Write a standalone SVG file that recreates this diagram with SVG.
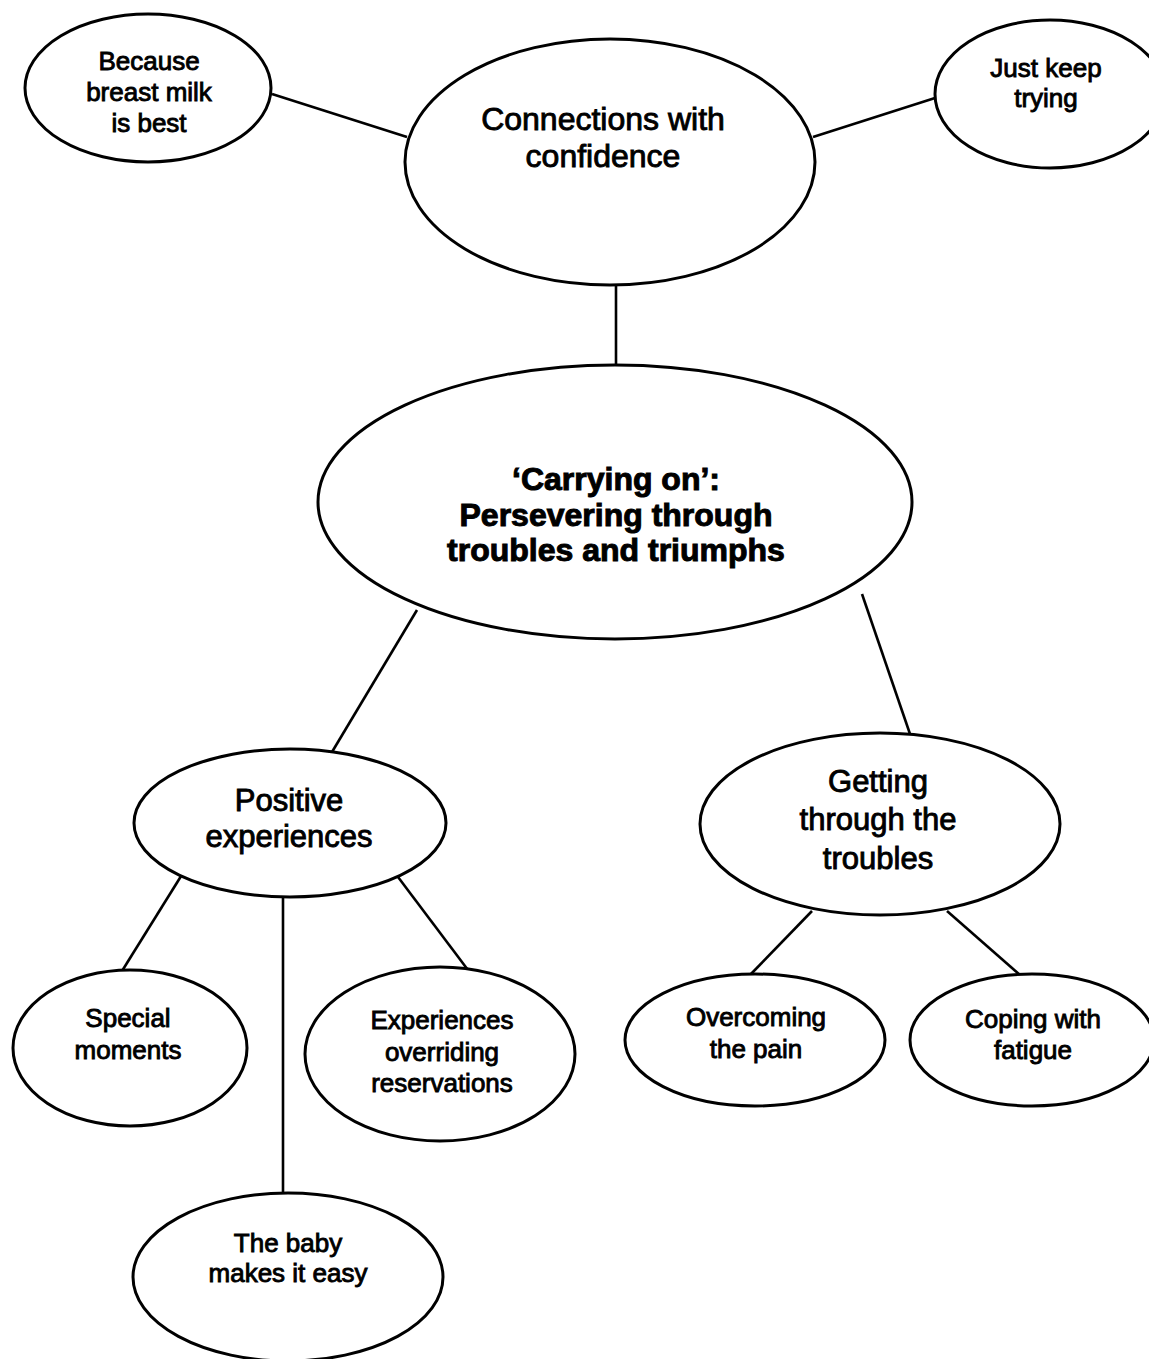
<svg xmlns="http://www.w3.org/2000/svg" width="1149" height="1359" viewBox="0 0 1149 1359">
<style>
.n{fill:#fff;stroke:#000;stroke-width:3}
.c line{stroke:#000;stroke-width:2.6}
text{font-family:"Liberation Sans",Arial,sans-serif;text-anchor:middle;fill:#000;stroke:#000;stroke-width:0.9}
.s{font-size:26px}
.m{font-size:31px}
.b{font-size:32px;font-weight:bold;stroke-width:1}
</style>
<rect width="1149" height="1359" fill="#fff"/>
<g class="c" id="connectors">
<line x1="272" y1="94" x2="407" y2="137"/>
<line x1="813" y1="137" x2="935" y2="98"/>
<line x1="616" y1="285" x2="616" y2="365"/>
<line x1="417" y1="610" x2="332" y2="752"/>
<line x1="862" y1="594" x2="910" y2="734"/>
<line x1="183" y1="873" x2="122" y2="971"/>
<line x1="283" y1="898" x2="283" y2="1194"/>
<line x1="395" y1="873" x2="468" y2="970"/>
<line x1="812" y1="911" x2="750" y2="975"/>
<line x1="947" y1="911" x2="1020" y2="975"/>
</g>
<g id="because">
<ellipse class="n" cx="148" cy="88" rx="123" ry="74"/>
<text class="s" x="149" y="70">Because</text>
<text class="s" x="149" y="101">breast milk</text>
<text class="s" x="149" y="132">is best</text>
</g>
<g id="connections">
<ellipse class="n" cx="610" cy="162" rx="205" ry="123"/>
<text class="m" x="603" y="130" style="font-size:32px">Connections with</text>
<text class="m" x="603" y="167" style="font-size:32px">confidence</text>
</g>
<g id="justkeep">
<ellipse class="n" cx="1050" cy="94" rx="115" ry="74"/>
<text class="s" x="1046" y="77">Just keep</text>
<text class="s" x="1046" y="107">trying</text>
</g>
<g id="carrying">
<ellipse class="n" cx="615" cy="502" rx="297" ry="137"/>
<text class="b" x="616" y="490">‘Carrying on’:</text>
<text class="b" x="616" y="526">Persevering through</text>
<text class="b" x="616" y="561">troubles and triumphs</text>
</g>
<g id="positive">
<ellipse class="n" cx="290" cy="823" rx="156" ry="74"/>
<text class="m" x="289" y="811">Positive</text>
<text class="m" x="289" y="847">experiences</text>
</g>
<g id="getting">
<ellipse class="n" cx="880" cy="824" rx="180" ry="91"/>
<text class="m" x="878" y="792">Getting</text>
<text class="m" x="878" y="830">through the</text>
<text class="m" x="878" y="869">troubles</text>
</g>
<g id="special">
<ellipse class="n" cx="130" cy="1048" rx="117" ry="78"/>
<text class="s" x="128" y="1027">Special</text>
<text class="s" x="128" y="1059">moments</text>
</g>
<g id="overriding">
<ellipse class="n" cx="440" cy="1054" rx="135" ry="87"/>
<text class="s" x="442" y="1029">Experiences</text>
<text class="s" x="442" y="1061">overriding</text>
<text class="s" x="442" y="1092">reservations</text>
</g>
<g id="baby">
<ellipse class="n" cx="288" cy="1277" rx="155" ry="84"/>
<text class="s" x="288" y="1252">The baby</text>
<text class="s" x="288" y="1282">makes it easy</text>
</g>
<g id="pain">
<ellipse class="n" cx="755" cy="1040" rx="130" ry="66"/>
<text class="s" x="756" y="1026">Overcoming</text>
<text class="s" x="756" y="1058">the pain</text>
</g>
<g id="fatigue">
<ellipse class="n" cx="1032" cy="1040" rx="122" ry="66"/>
<text class="s" x="1033" y="1028">Coping with</text>
<text class="s" x="1033" y="1059">fatigue</text>
</g>
</svg>
